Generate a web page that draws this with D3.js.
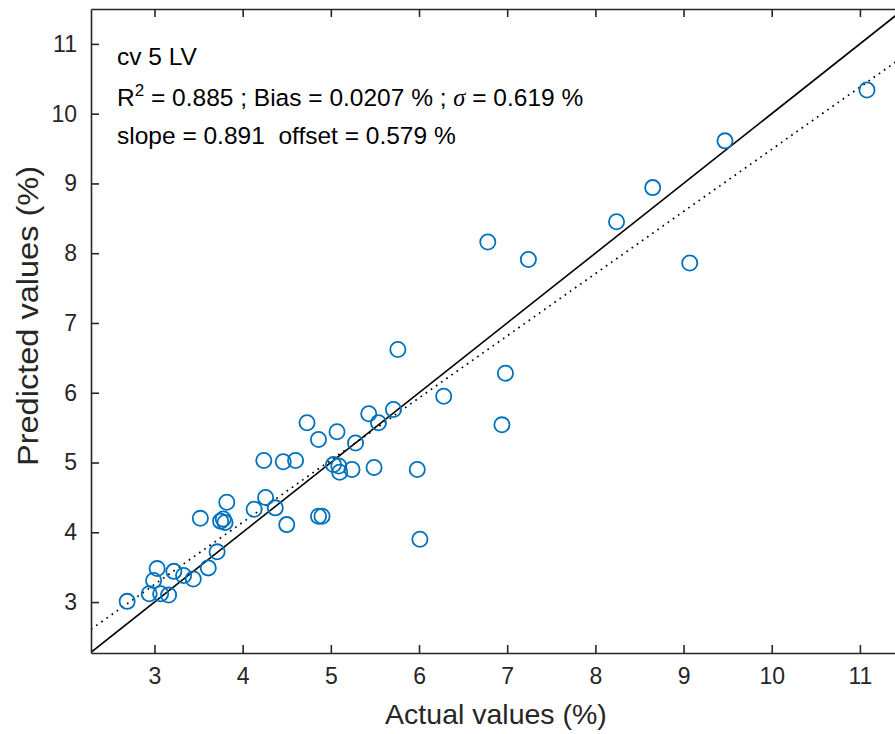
<!DOCTYPE html>
<html>
<head>
<meta charset="utf-8">
<script src="https://cdn.jsdelivr.net/npm/d3@7"></script>
<style>
  body { margin: 0; background: #fff; }
  svg { display: block; font-family: "Liberation Sans", Arial, sans-serif; }
</style>
</head>
<body>
<svg id="chart" width="895" height="734"></svg>
<script>
// measured (actual) vs predicted values, %
const actual = [
  2.69, 2.94, 2.99, 3.03, 3.07, 3.16, 3.22, 3.33, 3.44, 3.61,
  3.71, 3.52, 3.82, 3.75, 3.78, 3.80, 4.13, 4.26, 4.37, 4.50,
  4.86, 4.90, 4.24, 4.46, 4.60, 4.73, 4.86, 5.07, 5.28, 5.03,
  5.09, 5.10, 5.24, 5.49, 5.43, 5.54, 5.71, 5.76, 6.28, 6.98,
  6.94, 5.98, 6.01, 6.78, 7.24, 8.24, 8.65, 9.47, 9.07, 11.08
]
const predicted = [
  3.01, 3.12, 3.31, 3.48, 3.12, 3.10, 3.44, 3.38, 3.33, 3.49,
  3.72, 4.20, 4.43, 4.16, 4.19, 4.14, 4.33, 4.50, 4.35, 4.11,
  4.23, 4.23, 5.03, 5.01, 5.03, 5.57, 5.33, 5.44, 5.28, 4.97,
  4.95, 4.86, 4.90, 4.93, 5.70, 5.57, 5.76, 6.62, 5.95, 6.28,
  5.54, 4.90, 3.90, 8.16, 7.91, 8.45, 8.94, 9.61, 7.86, 10.34
]
const xTicks = [3, 4, 5, 6, 7, 8, 9, 10, 11]
const yTicks = [3, 4, 5, 6, 7, 8, 9, 10, 11]
const xDomain = [2.28, 11.5]
const yDomain = [2.27, 11.5]
const fitSlope = 0.891
const fitOffset = 0.579

const points = actual.map((d, i) => ({ x: d, y: predicted[i] }))

const svg = d3.select('#chart')
const margin = { left: 91, top: 9, right: 904, bottom: 653 }
const axisColor = '#262626'
const tickLen = 8

const x = d3.scaleLinear().domain(xDomain).range([margin.left, margin.right])
const y = d3.scaleLinear().domain(yDomain).range([margin.bottom, margin.top])

svg.append('defs').append('clipPath').attr('id', 'plotClip')
  .append('rect')
  .attr('x', margin.left).attr('y', margin.top)
  .attr('width', margin.right - margin.left)
  .attr('height', margin.bottom - margin.top)

const plot = svg.append('g').attr('clip-path', 'url(#plotClip)')

// 1:1 line
plot.append('line')
  .attr('x1', x(xDomain[0])).attr('y1', y(xDomain[0]))
  .attr('x2', x(xDomain[1])).attr('y2', y(xDomain[1]))
  .attr('stroke', '#000').attr('stroke-width', 1.6)

// regression line
plot.append('line')
  .attr('x1', x(xDomain[0])).attr('y1', y(fitSlope * xDomain[0] + fitOffset))
  .attr('x2', x(xDomain[1])).attr('y2', y(fitSlope * xDomain[1] + fitOffset))
  .attr('stroke', '#000').attr('stroke-width', 1.7)
  .attr('stroke-dasharray', '1.7,4.6')

plot.selectAll('circle')
  .data(points)
  .enter()
  .append('circle')
  .attr('cx', d => x(d.x))
  .attr('cy', d => y(d.y))
  .attr('r', 7.6)
  .attr('fill', 'none')
  .attr('stroke', '#0072BD')
  .attr('stroke-width', 1.8)

// axes: MATLAB style box with inward ticks
const xAxis = d3.axisBottom(x).tickValues(xTicks).tickSizeInner(-tickLen).tickSizeOuter(0).tickPadding(14)
const yAxis = d3.axisLeft(y).tickValues(yTicks).tickSizeInner(-tickLen).tickSizeOuter(0).tickPadding(14)

const gx = svg.append('g').attr('transform', `translate(0,${margin.bottom})`).call(xAxis)
const gy = svg.append('g').attr('transform', `translate(${margin.left},0)`).call(yAxis)
const gxTop = svg.append('g').attr('transform', `translate(0,${margin.top})`)
  .call(d3.axisTop(x).tickValues(xTicks).tickSizeInner(-tickLen).tickSizeOuter(0).tickFormat(''))
const gyRight = svg.append('g').attr('transform', `translate(${margin.right},0)`)
  .call(d3.axisRight(y).tickValues(yTicks).tickSizeInner(-tickLen).tickSizeOuter(0).tickFormat(''))

;[gx, gy, gxTop, gyRight].forEach(g => {
  g.select('.domain').attr('stroke', axisColor).attr('stroke-width', 1.6)
  g.selectAll('.tick line').attr('stroke', axisColor).attr('stroke-width', 1.6)
  g.selectAll('.tick text').attr('fill', axisColor).style('font-size', '23px')
})
gx.selectAll('.tick text').attr('dy', '0.72em')

// axis labels
svg.append('text')
  .attr('x', 496).attr('y', 724)
  .attr('text-anchor', 'middle')
  .attr('fill', axisColor)
  .style('font-size', '28.5px')
  .text('Actual values (%)')

svg.append('text')
  .attr('transform', 'translate(38,316) rotate(-90)')
  .attr('text-anchor', 'middle')
  .attr('fill', axisColor)
  .attr('textLength', 300)
  .attr('lengthAdjust', 'spacingAndGlyphs')
  .style('font-size', '29px')
  .text('Predicted values (%)')

// annotation
const note = svg.append('g').style('font-size', '24.5px').attr('fill', '#000')
note.append('text').attr('x', 117).attr('y', 65).text('cv 5 LV')

const r2 = note.append('text').attr('x', 117).attr('y', 106)
r2.append('tspan').text('R')
r2.append('tspan').attr('dy', -10).style('font-size', '17px').text('2')
r2.append('tspan').attr('dy', 10).text(' = 0.885 ; Bias = 0.0207 % ; ')
r2.append('tspan').style('font-family', '"Liberation Serif", serif').style('font-style', 'italic').text('σ')
r2.append('tspan').text(' = 0.619 %')

note.append('text').attr('x', 117).attr('y', 144)
  .style('white-space', 'pre')
  .text('slope = 0.891  offset = 0.579 %')
</script>
</body>
</html>
